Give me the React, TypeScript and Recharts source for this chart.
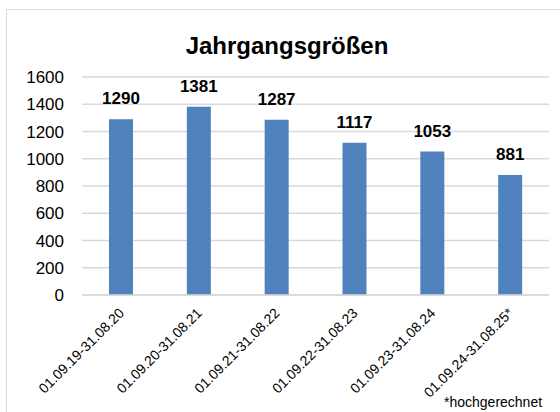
import React from "react";
import { BarChart, Bar, XAxis, YAxis, CartesianGrid, LabelList } from "recharts";

const categories = [
  "01.09.19-31.08.20",
  "01.09.20-31.08.21",
  "01.09.21-31.08.22",
  "01.09.22-31.08.23",
  "01.09.23-31.08.24",
  "01.09.24-31.08.25*",
];
const values = [1290, 1381, 1287, 1117, 1053, 881];
const yTicks = [0, 200, 400, 600, 800, 1000, 1200, 1400, 1600];
const title = "Jahrgangsgrößen";
const footnote = "*hochgerechnet";

const data = categories.map((c, i) => ({ name: c, value: values[i] }));

const FONT = "'Liberation Sans', Arial, sans-serif";

const XTick = (props: any) => {
  const { x, y, payload } = props;
  return (
    <g transform={`translate(${x + 4},${y + 19})`}>
      <text
        x={0}
        y={0}
        textAnchor="end"
        transform="rotate(-45)"
        fontSize={14}
        fontFamily={FONT}
        fill="#000"
      >
        {payload.value}
      </text>
    </g>
  );
};

export default function App() {
  return (
    <div
      style={{
        position: "absolute",
        left: 0,
        top: 0,
        width: 560,
        height: 412,
        overflow: "hidden",
        background: "#fff",
        fontFamily: FONT,
      }}
    >
      <div
        style={{
          position: "absolute",
          left: 6,
          top: 9,
          width: 600,
          height: 500,
          border: "1px solid #d9d9d9",
          boxSizing: "border-box",
        }}
      />
      <div
        style={{
          position: "absolute",
          left: 0,
          top: 31.5,
          width: 574,
          textAlign: "center",
          fontSize: 24,
          fontWeight: "bold",
          lineHeight: "28px",
          color: "#000",
        }}
      >
        {title}
      </div>
      <div style={{ position: "absolute", left: 0, top: 0 }}>
        <BarChart
          width={560}
          height={412}
          data={data}
          margin={{ top: 77, right: 11, bottom: 0, left: 0 }}
        >
          <CartesianGrid vertical={false} stroke="#d9d9d9" strokeWidth={1.3} />
          <XAxis
            dataKey="name"
            interval={0}
            tickLine={false}
            tickSize={0}
            tickMargin={0}
            axisLine={{ stroke: "#d9d9d9", strokeWidth: 1.3 }}
            tick={<XTick />}
            height={117}
          />
          <YAxis
            domain={[0, 1600]}
            ticks={yTicks}
            width={82}
            tickLine={false}
            axisLine={false}
            tickSize={0}
            tickMargin={18}
            interval={0}
            tick={{ fontSize: 17, fill: "#000", fontFamily: FONT }}
          />
          <Bar dataKey="value" fill="#4f81bd" barSize={24} isAnimationActive={false}>
            <LabelList
              dataKey="value"
              position="top"
              offset={15}
              style={{ fontSize: 17, fontWeight: "bold", fill: "#000", fontFamily: FONT }}
            />
          </Bar>
        </BarChart>
      </div>
      <div
        style={{
          position: "absolute",
          left: 444,
          top: 393,
          fontSize: 14,
          lineHeight: "18px",
          color: "#000",
          whiteSpace: "nowrap",
        }}
      >
        {footnote}
      </div>
    </div>
  );
}
